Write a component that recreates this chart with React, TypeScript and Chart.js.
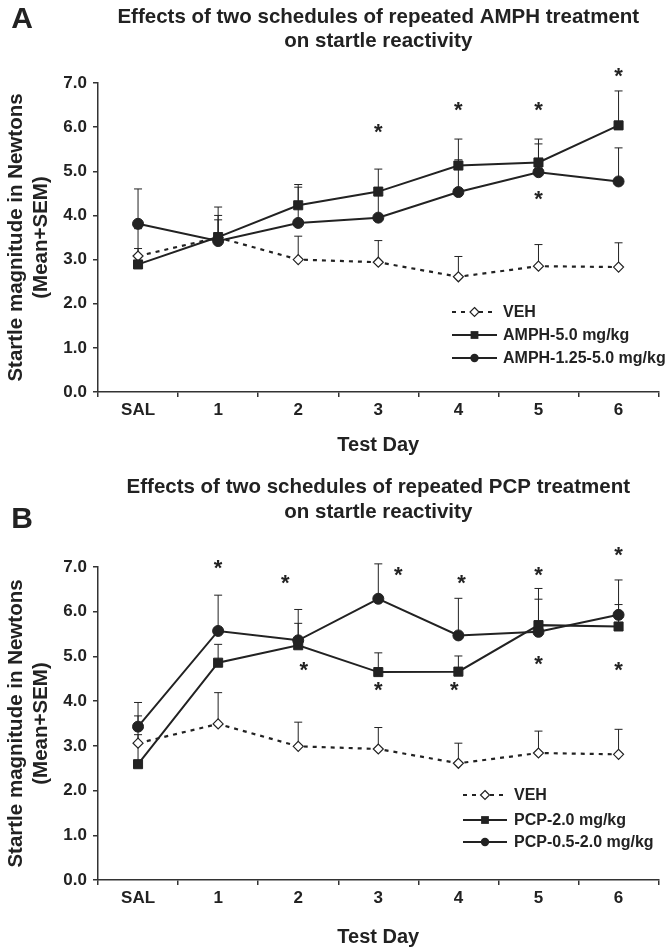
import React, { useEffect, useRef } from 'react';
import { Chart, registerables } from 'chart.js';

Chart.register(...registerables);

const FONT = "'Liberation Sans', Arial, Helvetica, sans-serif";
const INK = '#222';

// ---------- shared ----------
const dayLabels = ['SAL', '1', '2', '3', '4', '5', '6'];
const yAxisTitle = ['Startle magnitude in Newtons', '(Mean+SEM)'];
const xAxisTitle = 'Test Day';

// ---------- Panel A (AMPH) ----------
const ampTitle = ['Effects of two schedules of repeated AMPH treatment', 'on startle reactivity'];
const ampNames = ['VEH', 'AMPH-5.0 mg/kg', 'AMPH-1.25-5.0 mg/kg'];
const ampVeh = [3.08, 3.5, 3.0, 2.94, 2.61, 2.85, 2.83];
const ampVehTop = [3.25, 4.19, 3.53, 3.43, 3.07, 3.34, 3.38];
const ampHigh = [2.89, 3.51, 4.23, 4.54, 5.13, 5.2, 6.04];
const ampHighTop = [3.7, 4.0, 4.7, 5.05, 5.73, 5.73, 6.82];
const ampLow = [3.81, 3.42, 3.83, 3.95, 4.53, 4.98, 4.77];
const ampLowTop = [4.6, 3.9, 4.64, 4.45, 5.26, 5.62, 5.53];
const ampStarX = [3, 4, 5, 6, 5];
const ampStarY = [5.96, 6.46, 6.46, 7.23, 4.45];

// ---------- Panel B (PCP) ----------
const pcpTitle = ['Effects of two schedules of repeated PCP treatment', 'on startle reactivity'];
const pcpNames = ['VEH', 'PCP-2.0 mg/kg', 'PCP-0.5-2.0 mg/kg'];
const pcpVeh = [3.06, 3.49, 2.99, 2.93, 2.61, 2.84, 2.81];
const pcpVehTop = [3.25, 4.19, 3.53, 3.41, 3.06, 3.33, 3.37];
const pcpHigh = [2.59, 4.86, 5.25, 4.65, 4.66, 5.7, 5.67];
const pcpHighTop = [3.67, 5.27, 5.74, 5.08, 5.01, 6.28, 6.16];
const pcpLow = [3.43, 5.57, 5.36, 6.29, 5.47, 5.55, 5.93];
const pcpLowTop = [3.97, 6.37, 6.05, 7.07, 6.3, 6.52, 6.71];
const pcpStarX = [1, 1.84, 3.25, 4.04, 5, 6, 2.07, 3, 3.95, 5, 6];
const pcpStarY = [7.06, 6.72, 6.9, 6.72, 6.9, 7.35, 4.78, 4.33, 4.33, 4.9, 4.78];

type PanelCfg = {
  letter: string;
  letterY: number;
  title: string[];
  titleLH: number;
  titlePadTop: number;
  titlePadBottom: number;
  names: string[];
  veh: number[]; vehTop: number[];
  high: number[]; highTop: number[];
  low: number[]; lowTop: number[];
  starX: number[]; starY: number[];
  height: number;
  xAxisHeight: number;
  xTitlePad: number;
  legendRows: number[];
  legendX0: number;
  legendX1: number;
  legendTextX: number;
};

function drawMarker(ctx: CanvasRenderingContext2D, style: string, x: number, y: number, r: number) {
  ctx.save();
  ctx.setLineDash([]);
  ctx.lineWidth = 1.2;
  ctx.strokeStyle = INK;
  if (style === 'rectRot') {
    ctx.fillStyle = '#fff';
    ctx.beginPath();
    ctx.moveTo(x, y - r);
    ctx.lineTo(x + r, y);
    ctx.lineTo(x, y + r);
    ctx.lineTo(x - r, y);
    ctx.closePath();
    ctx.fill();
    ctx.stroke();
  } else if (style === 'rect') {
    ctx.fillStyle = INK;
    const s = r * Math.SQRT1_2;
    ctx.fillRect(x - s, y - s, 2 * s, 2 * s);
  } else {
    ctx.fillStyle = INK;
    ctx.beginPath();
    ctx.arc(x, y, r, 0, Math.PI * 2);
    ctx.fill();
  }
  ctx.restore();
}

function makeExtras(cfg: PanelCfg) {
  return {
    id: 'extras' + cfg.letter,
    beforeDatasetsDraw(chart: any) {
      const ctx = chart.ctx as CanvasRenderingContext2D;
      const ys = chart.scales.y;
      chart.data.datasets.forEach((ds: any, i: number) => {
        const tops: number[] = ds.errTop;
        if (!tops) return;
        const meta = chart.getDatasetMeta(i);
        ctx.save();
        ctx.strokeStyle = INK;
        ctx.lineWidth = 1;
        ctx.setLineDash([]);
        meta.data.forEach((pt: any, j: number) => {
          const yt = ys.getPixelForValue(tops[j]);
          ctx.beginPath();
          ctx.moveTo(pt.x, pt.y);
          ctx.lineTo(pt.x, yt);
          ctx.moveTo(pt.x - 4, yt);
          ctx.lineTo(pt.x + 4, yt);
          ctx.stroke();
        });
        ctx.restore();
      });
    },
    afterDraw(chart: any) {
      const ctx = chart.ctx as CanvasRenderingContext2D;
      const xs = chart.scales.x;
      const ys = chart.scales.y;
      ctx.save();
      // significance asterisks
      ctx.fillStyle = INK;
      ctx.font = `bold 22px ${FONT}`;
      ctx.textAlign = 'center';
      ctx.textBaseline = 'alphabetic';
      const m = ctx.measureText('*');
      const shift = (m.actualBoundingBoxAscent - m.actualBoundingBoxDescent) / 2;
      cfg.starX.forEach((sx, k) => {
        const px = xs.getPixelForValue(sx);
        const py = ys.getPixelForValue(cfg.starY[k]);
        ctx.fillText('*', px, py + shift);
      });
      // panel letter
      ctx.font = `bold 30px ${FONT}`;
      ctx.textBaseline = 'middle';
      ctx.fillText(cfg.letter, 22, cfg.letterY);
      // legend
      ctx.font = `bold 16px ${FONT}`;
      ctx.textAlign = 'left';
      chart.data.datasets.forEach((ds: any, i: number) => {
        const ry = cfg.legendRows[i];
        ctx.save();
        ctx.strokeStyle = INK;
        ctx.lineWidth = ds.borderWidth;
        ctx.setLineDash(ds.borderDash || []);
        ctx.beginPath();
        ctx.moveTo(cfg.legendX0, ry);
        ctx.lineTo(cfg.legendX1, ry);
        ctx.stroke();
        ctx.restore();
        const mx = (cfg.legendX0 + cfg.legendX1) / 2;
        const r = ds.pointStyle === 'rect' ? 5.5 : ds.pointStyle === 'rectRot' ? 4.5 : 4.2;
        drawMarker(ctx, ds.pointStyle, mx, ry, r);
        ctx.fillStyle = INK;
        ctx.fillText(ds.label, cfg.legendTextX, ry + 1);
      });
      ctx.restore();
    },
  };
}

function buildChart(canvas: HTMLCanvasElement, cfg: PanelCfg) {
  const datasets: any[] = [
    {
      label: cfg.names[0], data: cfg.veh, errTop: cfg.vehTop, order: 3,
      borderColor: INK, borderWidth: 2.2, borderDash: [4, 5],
      pointStyle: 'rectRot', pointRadius: 5, pointBackgroundColor: '#fff',
      pointBorderColor: INK, pointBorderWidth: 1.2,
    },
    {
      label: cfg.names[1], data: cfg.high, errTop: cfg.highTop, order: 2,
      borderColor: INK, borderWidth: 2,
      pointStyle: 'rect', pointRadius: 6.4, pointBackgroundColor: INK,
      pointBorderColor: INK, pointBorderWidth: 1,
    },
    {
      label: cfg.names[2], data: cfg.low, errTop: cfg.lowTop, order: 1,
      borderColor: INK, borderWidth: 2,
      pointStyle: 'circle', pointRadius: 5.5, pointBackgroundColor: INK,
      pointBorderColor: INK, pointBorderWidth: 1,
    },
  ];
  return new Chart(canvas, {
    type: 'line',
    data: { labels: dayLabels, datasets },
    options: {
      responsive: false,
      animation: false,
      events: [],
      layout: { padding: 0 },
      plugins: {
        legend: { display: false },
        tooltip: { enabled: false },
        title: {
          display: true,
          text: cfg.title,
          fullSize: false,
          color: INK,
          font: { family: FONT, size: 20.5, weight: 'bold', lineHeight: cfg.titleLH },
          padding: { top: cfg.titlePadTop, bottom: cfg.titlePadBottom },
        },
      },
      scales: {
        x: {
          type: 'category',
          offset: true,
          grid: { offset: true, drawOnChartArea: false, tickLength: 5, color: '#333', lineWidth: 1.5 },
          border: { color: '#333', width: 1.5 },
          ticks: { color: INK, padding: 3, autoSkip: false, maxRotation: 0, font: { family: FONT, size: 17, weight: 'bold' } },
          title: {
            display: true, text: xAxisTitle, color: INK,
            font: { family: FONT, size: 20, weight: 'bold', lineHeight: 1 },
            padding: { top: 0, bottom: cfg.xTitlePad },
          },
          afterFit: (s: any) => { s.height = cfg.xAxisHeight; },
        },
        y: {
          type: 'linear',
          min: 0,
          max: 7,
          grid: { drawOnChartArea: false, tickLength: 5, color: '#333', lineWidth: 1.5 },
          border: { color: '#333', width: 1.5 },
          ticks: {
            stepSize: 1, color: INK, padding: 6,
            font: { family: FONT, size: 17, weight: 'bold' },
            callback: (v: any) => Number(v).toFixed(1),
          },
          title: {
            display: true, text: yAxisTitle, color: INK,
            font: { family: FONT, size: 20.5, weight: 'bold', lineHeight: 25 / 20.5 },
            padding: { top: 3.5, bottom: 0 },
          },
          afterFit: (s: any) => { s.width = 98; },
        },
      },
    } as any,
    plugins: [makeExtras(cfg) as any],
  });
}

const panelA: PanelCfg = {
  letter: 'A', letterY: 20, title: ampTitle, titleLH: 1.2, titlePadTop: 4.7, titlePadBottom: 29.1,
  names: ampNames, veh: ampVeh, vehTop: ampVehTop, high: ampHigh, highTop: ampHighTop,
  low: ampLow, lowTop: ampLowTop, starX: ampStarX, starY: ampStarY,
  height: 470, xAxisHeight: 78, xTitlePad: 15,
  legendRows: [312, 335, 358], legendX0: 452, legendX1: 497, legendTextX: 503,
};

const panelB: PanelCfg = {
  letter: 'B', letterY: 50, title: pcpTitle, titleLH: 25 / 20.5, titlePadTop: 4.5, titlePadBottom: 42.5,
  names: pcpNames, veh: pcpVeh, vehTop: pcpVehTop, high: pcpHigh, highTop: pcpHighTop,
  low: pcpLow, lowTop: pcpLowTop, starX: pcpStarX, starY: pcpStarY,
  height: 477, xAxisHeight: 67, xTitlePad: 0,
  legendRows: [325, 350, 372], legendX0: 463, legendX1: 507, legendTextX: 514,
};

function Panel({ cfg }: { cfg: PanelCfg }) {
  const ref = useRef<HTMLCanvasElement | null>(null);
  useEffect(() => {
    if (!ref.current) return;
    const chart = buildChart(ref.current, cfg);
    return () => chart.destroy();
  }, [cfg]);
  return <canvas ref={ref} width={666} height={cfg.height} style={{ display: 'block', width: 666, height: cfg.height }} />;
}

export default function App() {
  return (
    <div style={{ position: 'absolute', left: 0, top: 0, width: 666, height: 947, background: '#fff' }}>
      <Panel cfg={panelA} />
      <Panel cfg={panelB} />
    </div>
  );
}
